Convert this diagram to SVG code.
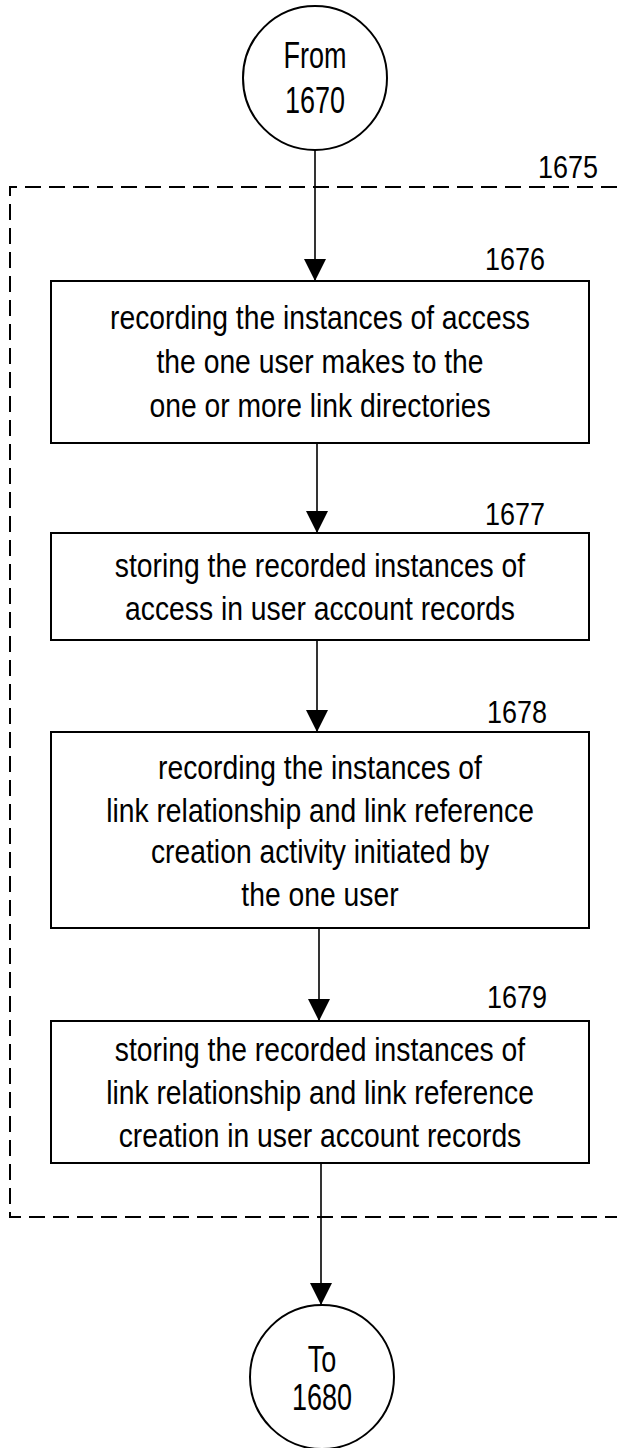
<svg xmlns="http://www.w3.org/2000/svg" width="617" height="1448" viewBox="0 0 617 1448">
<style>
.t{font-family:"Liberation Sans",Arial,sans-serif;font-size:28.3px;fill:#000;text-anchor:middle}
.c{font-family:"Liberation Sans",Arial,sans-serif;font-size:27px;fill:#000;text-anchor:middle}
.n{font-family:"Liberation Sans",Arial,sans-serif;font-size:27px;fill:#000;text-anchor:end}
.box{fill:#fff;stroke:#000;stroke-width:2}
.circ{fill:#fff;stroke:#000;stroke-width:2}
.line{stroke:#000;stroke-width:1.6;fill:none}
.dash{stroke:#000;stroke-width:2;fill:none;stroke-dasharray:16 8}
</style>
<defs>
<marker id="ah" viewBox="0 0 22 22" refX="22" refY="11" markerWidth="22" markerHeight="22" markerUnits="userSpaceOnUse" orient="auto">
<path d="M0,0 L22,11 L0,22 Z" fill="#000"/>
</marker>
</defs>
<rect width="617" height="1448" fill="#fff"/>
<g id="group1675">
<path class="dash" d="M617,187 L10,187 L10,1217 L617,1217"/>
<text class="n" transform="translate(598,178) scale(1,1.15)">1675</text>
</g>
<g id="connectors">
<path class="line" d="M315,150 L315,281" marker-end="url(#ah)"/>
<path class="line" d="M317,443 L317,533" marker-end="url(#ah)"/>
<path class="line" d="M317,640 L317,732" marker-end="url(#ah)"/>
<path class="line" d="M319,928 L319,1021" marker-end="url(#ah)"/>
<path class="line" d="M321,1163 L321,1305" marker-end="url(#ah)"/>
</g>
<g id="start">
<circle class="circ" cx="315" cy="78" r="72"/>
<text class="c" transform="translate(315,68) scale(1,1.35)">From</text>
<text class="c" transform="translate(315,113) scale(1,1.35)">1670</text>
</g>
<g id="n1676">
<rect class="box" x="51" y="281" width="538" height="162"/>
<text class="n" transform="translate(545,270) scale(1,1.15)">1676</text>
<text class="t" transform="translate(320,329) scale(1,1.15)">recording the instances of access</text>
<text class="t" transform="translate(320,373) scale(1,1.15)">the one user makes to the</text>
<text class="t" transform="translate(320,417) scale(1,1.15)">one or more link directories</text>
</g>
<g id="n1677">
<rect class="box" x="51" y="533" width="538" height="107"/>
<text class="n" transform="translate(545,525) scale(1,1.15)">1677</text>
<text class="t" transform="translate(320,577) scale(1,1.15)">storing the recorded instances of</text>
<text class="t" transform="translate(320,620) scale(1,1.15)">access in user account records</text>
</g>
<g id="n1678">
<rect class="box" x="51" y="732" width="538" height="196"/>
<text class="n" transform="translate(547,723) scale(1,1.15)">1678</text>
<text class="t" transform="translate(320,779) scale(1,1.15)">recording the instances of</text>
<text class="t" transform="translate(320,822) scale(1,1.15)">link relationship and link reference</text>
<text class="t" transform="translate(320,863) scale(1,1.15)">creation activity initiated by</text>
<text class="t" transform="translate(320,906) scale(1,1.15)">the one user</text>
</g>
<g id="n1679">
<rect class="box" x="51" y="1021" width="538" height="142"/>
<text class="n" transform="translate(547,1008) scale(1,1.15)">1679</text>
<text class="t" transform="translate(320,1061) scale(1,1.15)">storing the recorded instances of</text>
<text class="t" transform="translate(320,1104) scale(1,1.15)">link relationship and link reference</text>
<text class="t" transform="translate(320,1147) scale(1,1.15)">creation in user account records</text>
</g>
<g id="end">
<circle class="circ" cx="322" cy="1377" r="72"/>
<text class="c" transform="translate(322,1372) scale(1,1.35)">To</text>
<text class="c" transform="translate(322,1410) scale(1,1.35)">1680</text>
</g>
</svg>
